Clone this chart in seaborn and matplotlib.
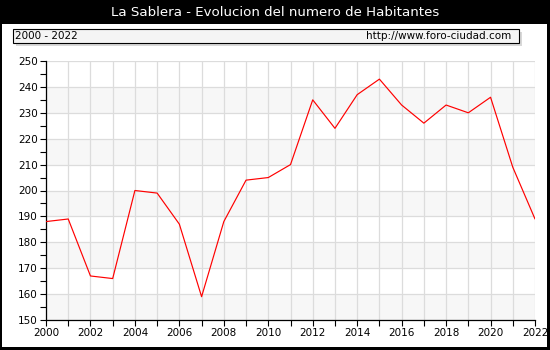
import matplotlib
matplotlib.use("Agg")
import matplotlib.pyplot as plt
import matplotlib.patches as mpatches
from matplotlib.ticker import MultipleLocator
import seaborn as sns
import pandas as pd

years = list(range(2000, 2023))
habitantes = [188, 189, 167, 166, 200, 199, 187, 159, 188, 204, 205, 210,
              235, 224, 237, 243, 233, 226, 233, 230, 236, 209, 189]
title = "La Sablera - Evolucion del numero de Habitantes"
period_label = "2000 - 2022"
url_label = "http://www.foro-ciudad.com"

sns.set_theme(style="white")
plt.rcParams['font.family'] = ['DejaVu Sans']

fig = plt.figure(figsize=(5.5, 3.5), dpi=100)
fig.patch.set_facecolor("black")

# white panel
fig.add_artist(mpatches.Rectangle((2/550, 3/350), 545/550, 323/350,
                                  transform=fig.transFigure, facecolor="white",
                                  edgecolor="none", zorder=0))
fig.text(0.5, 1 - 12/350, title, color="white", ha="center", va="center", fontsize=9.6)

# info box with shadow
fig.add_artist(mpatches.Rectangle((16/550, 1 - 46/350), 506/550, 14/350,
                                  transform=fig.transFigure, facecolor="#d8d8d8",
                                  edgecolor="none", zorder=1))
fig.add_artist(mpatches.Rectangle((13/550, 1 - 43/350), 506/550, 14/350,
                                  transform=fig.transFigure, facecolor="#f4f4f4",
                                  edgecolor="black", linewidth=0.8, zorder=2))
fig.text(15/550, 1 - 36/350, period_label, ha="left", va="center", fontsize=7.5, color="black", zorder=3)
fig.text(511/550, 1 - 36/350, url_label, ha="right", va="center", fontsize=7.5, color="black", zorder=3)

ax = fig.add_axes([46/550, 1 - 320/350, (535 - 46)/550, (320 - 61)/350])
ax.set_facecolor("white")
for lo in range(150, 250, 20):
    ax.axhspan(lo, lo + 10, color="#f7f7f7", zorder=0, linewidth=0)

df = pd.DataFrame({"year": years, "hab": habitantes})
sns.lineplot(data=df, x="year", y="hab", color="red", linewidth=0.85, ax=ax, zorder=3)

ax.set_xlim(2000, 2022)
ax.set_ylim(150, 250)
ax.xaxis.set_major_locator(MultipleLocator(2))
ax.xaxis.set_minor_locator(MultipleLocator(1))
ax.yaxis.set_major_locator(MultipleLocator(10))
ax.yaxis.set_minor_locator(MultipleLocator(5))
ax.grid(True, which="major", axis="y", color="#dcdcdc", linewidth=0.9, zorder=1)
ax.grid(True, which="minor", axis="x", color="#dcdcdc", linewidth=0.9, zorder=1)
ax.grid(True, which="major", axis="x", color="#dcdcdc", linewidth=0.9, zorder=1)
ax.set_axisbelow(True)
for s in ["top", "right"]:
    ax.spines[s].set_visible(False)
for s in ["left", "bottom"]:
    ax.spines[s].set_color("black")
    ax.spines[s].set_linewidth(0.9)
ax.tick_params(axis="both", which="both", direction="out", color="black", width=0.8,
               labelsize=7.5, labelcolor="black", pad=2)
ax.tick_params(axis="both", which="major", length=4, bottom=True, left=True)
ax.tick_params(axis="both", which="minor", length=4, bottom=True, left=True)
ax.set_xlabel("")
ax.set_ylabel("")

fig.savefig("out.png", dpi=100, facecolor=fig.get_facecolor())
